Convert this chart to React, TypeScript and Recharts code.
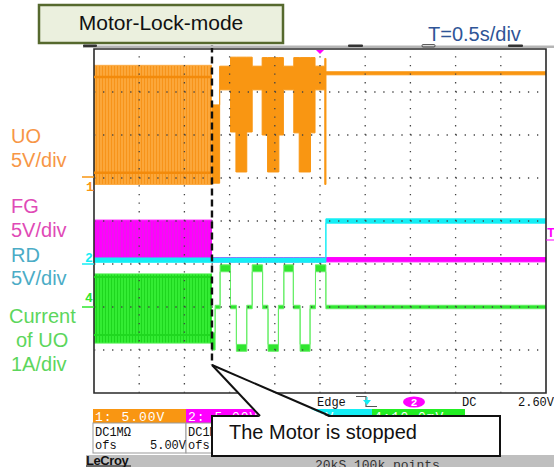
import React from "react"
import { Area, ComposedChart, Line, ReferenceArea, ReferenceLine, XAxis, YAxis } from "recharts"

// time in seconds (0.5 s/div, 10 div on screen), levels in screen divisions (0 = bottom, 8 = top)
const stopTime = 1.305
const endTime = 5

// UO, 5V/div
const uoDenseBand = [4.85, 7.62]
const uoDenseLevels = [5.12, 7.35]
const uoAfterTime = [1.305, 1.39, 1.51, 1.57, 1.69, 1.75, 1.86, 1.92, 2.045, 2.095, 2.21, 2.27, 2.395, 2.445, 2.553, 2.566, 5]
const uoAfterLow = [4.88, 7.05, 6.07, 5.14, 6.07, 7.05, 6.0, 5.14, 6.0, 7.05, 6.05, 5.14, 6.05, 7.05, 4.85, 7.4, 7.4]
const uoAfterHigh = [6.7, 7.6, 7.81, 7.81, 7.81, 7.6, 7.8, 7.8, 7.8, 7.6, 7.8, 7.8, 7.8, 7.6, 7.78, 7.47, 7.47]

// FG, 5V/div
const fgDenseBand = [3.09, 4.02]
const fgAfterTime = [1.305, 5]
const fgAfterLow = [3.05, 3.05]
const fgAfterHigh = [3.15, 3.15]

// RD, 5V/div
const rdTime = [0, 2.565, 5]
const rdLow = [3.04, 3.95, 3.95]
const rdHigh = [3.14, 4.05, 4.05]

// current of UO, 1A/div
const curDenseBand = [1.16, 2.77]
const curDenseLevels = [1.35, 2.7]
const curAfterTime = [1.305, 1.34, 1.395, 1.51, 1.575, 1.69, 1.75, 1.865, 1.925, 2.04, 2.1, 2.205, 2.28, 2.39, 2.45, 2.565, 5]
const curAfterLow = [1.0, 1.96, 2.82, 1.96, 0.97, 1.96, 2.82, 1.96, 0.97, 1.96, 2.82, 1.96, 0.97, 1.96, 2.82, 1.96, 1.96]
const curAfterHigh = [1.4, 2.04, 2.98, 2.04, 1.13, 2.04, 2.98, 2.04, 1.13, 2.04, 2.98, 2.04, 1.13, 2.04, 2.98, 2.04, 2.04]

const gridTimes = [0.5, 1, 1.5, 2, 2.5, 3, 3.5, 4, 4.5]
const gridLevels = [1, 2, 3, 4, 5, 6, 7]

function stepIndex(times: number[], t: number) {
  let idx = -1
  for (let i = 0; i < times.length; i++) {
    if (times[i] <= t + 1e-9) idx = i
  }
  return idx
}

function bandAt(times: number[], low: number[], high: number[], t: number) {
  const i = stepIndex(times, t)
  if (i < 0) return null
  return [low[i], high[i]]
}

const allTimes = Array.from(
  new Set([0, stopTime, endTime, ...uoAfterTime, ...fgAfterTime, ...rdTime, ...curAfterTime])
).sort((a, b) => a - b)

const rows = allTimes.map((t) => {
  const before = t <= stopTime + 1e-9
  const after = t >= stopTime - 1e-9
  return {
    t,
    uoDense: before ? uoDenseBand : null,
    uoLvlLo: before ? uoDenseLevels[0] : null,
    uoLvlHi: before ? uoDenseLevels[1] : null,
    uoAfter: after ? bandAt(uoAfterTime, uoAfterLow, uoAfterHigh, t) : null,
    fgDense: before ? fgDenseBand : null,
    fgAfter: after ? bandAt(fgAfterTime, fgAfterLow, fgAfterHigh, t) : null,
    rd: bandAt(rdTime, rdLow, rdHigh, t),
    curDense: before ? curDenseBand : null,
    curLvlLo: before ? curDenseLevels[0] : null,
    curLvlHi: before ? curDenseLevels[1] : null,
    curAfter: after ? bandAt(curAfterTime, curAfterLow, curAfterHigh, t) : null,
  }
})

const ORANGE = "#f99612"
const MAGENTA = "#ff00ff"
const CYAN = "#14eef5"
const GREEN = "#2ee62e"
const ARIAL = "Arial, 'Liberation Sans', sans-serif"
const MONO = "'Liberation Mono', 'DejaVu Sans Mono', monospace"

function ScopeChart() {
  return (
    <ComposedChart width={554} height={467} data={rows} margin={{ top: 49, right: 8, bottom: 74, left: 94 }}>
      <XAxis type="number" dataKey="t" domain={[0, endTime]} hide />
      <YAxis type="number" domain={[0, 8]} hide />

      <Area dataKey="uoDense" type="stepAfter" fill="url(#uoStripes)" fillOpacity={1} stroke="#fbab45" strokeWidth={1} dot={false} isAnimationActive={false} />
      <Line dataKey="uoLvlHi" type="stepAfter" stroke="#f38a0a" strokeWidth={2.5} dot={false} isAnimationActive={false} />
      <Line dataKey="uoLvlLo" type="stepAfter" stroke="#f38a0a" strokeWidth={2.5} dot={false} isAnimationActive={false} />
      <Area dataKey="uoAfter" type="stepAfter" fill={ORANGE} fillOpacity={1} stroke={ORANGE} strokeWidth={1} dot={false} isAnimationActive={false} />

      <Area dataKey="fgDense" type="stepAfter" fill="url(#fgStripes)" fillOpacity={1} stroke={MAGENTA} strokeWidth={1} dot={false} isAnimationActive={false} />
      <Area dataKey="fgAfter" type="stepAfter" fill={MAGENTA} fillOpacity={1} stroke={MAGENTA} strokeWidth={1} dot={false} isAnimationActive={false} />
      <Area dataKey="rd" type="stepAfter" fill={CYAN} fillOpacity={1} stroke={CYAN} strokeWidth={1} dot={false} isAnimationActive={false} />

      <Area dataKey="curDense" type="stepAfter" fill="url(#curStripes)" fillOpacity={1} stroke="#55f055" strokeWidth={1} dot={false} isAnimationActive={false} />
      <Line dataKey="curLvlHi" type="stepAfter" stroke="#1fd81f" strokeWidth={2} dot={false} isAnimationActive={false} />
      <Line dataKey="curLvlLo" type="stepAfter" stroke="#1fd81f" strokeWidth={2} dot={false} isAnimationActive={false} />
      <Area dataKey="curAfter" type="stepAfter" fill={GREEN} fillOpacity={1} stroke="#66ee66" strokeWidth={1} dot={false} isAnimationActive={false} />

      {gridLevels.map((v) => (
        <ReferenceLine key={`h${v}`} y={v} stroke="#444" strokeWidth={1.3} strokeDasharray="1.3 7.74" />
      ))}
      {gridTimes.map((v) => (
        <ReferenceLine key={`v${v}`} x={v} stroke="#444" strokeWidth={1.3} strokeDasharray="1.3 7.3" />
      ))}
      <ReferenceArea x1={0} x2={endTime} y1={0} y2={8} fill="none" stroke="#2a2a2a" strokeWidth={1.6} ifOverflow="visible" />
      <ReferenceLine
        segment={[
          { x: stopTime, y: 8.08 },
          { x: stopTime, y: 0.65 },
        ]}
        stroke="#111"
        strokeWidth={2.4}
        strokeDasharray="7 4"
        ifOverflow="visible"
      />
    </ComposedChart>
  )
}

function Overlay() {
  return (
    <svg width={554} height={467} style={{ position: "absolute", left: 0, top: 0, pointerEvents: "none" }}>
      {/* title */}
      <rect x={39} y={5} width={244} height={38} fill="#ebf0de" stroke="#56692e" strokeWidth={2.5} />
      <text x={161} y={30} textAnchor="middle" fontFamily={ARIAL} fontSize={21} fill="#111">
        Motor-Lock-mode
      </text>
      <text x={428} y={41} fontFamily={ARIAL} fontSize={20} fill="#2f5597">
        T=0.5s/div
      </text>

      {/* scope top bar */}
      <rect x={83} y={45.5} width={471} height={2.5} fill="#b5b5b5" />
      <rect x={83} y={44.5} width={14} height={2.5} rx={1} fill="#333" />
      <rect x={348} y={44.5} width={15} height={2.5} rx={1} fill="#333" />
      <rect x={422} y={44.5} width={13} height={2.5} rx={1} fill="none" stroke="#333" strokeWidth={0.8} />
      <rect x={508} y={44.5} width={15} height={2.5} rx={1} fill="#333" />
      <polygon points="316,50 324,50 320,54" fill={MAGENTA} />

      {/* channel labels */}
      <g fontFamily={ARIAL} fontSize={20}>
        <text x={11} y={143} fill="#f79646">UO</text>
        <text x={11} y={167} fill="#f79646">5V/div</text>
        <text x={11} y={213} fill="#e04ab6">FG</text>
        <text x={11} y={237} fill="#e04ab6">5V/div</text>
        <text x={11} y={262} fill="#4bacc6">RD</text>
        <text x={11} y={285} fill="#4bacc6">5V/div</text>
        <text x={9} y={323} fill="#5cd65c">Current</text>
        <text x={16} y={347} fill="#5cd65c">of UO</text>
        <text x={11} y={371} fill="#5cd65c">1A/div</text>
      </g>

      {/* channel ground markers */}
      <line x1={82} x2={94} y1={177} y2={177} stroke={ORANGE} strokeWidth={1.5} />
      <text x={86} y={191} fontFamily={MONO} fontWeight="bold" fontSize={13} fill={ORANGE}>1</text>
      <text x={85} y={262} fontFamily={MONO} fontWeight="bold" fontSize={13} fill={CYAN}>2</text>
      <line x1={82} x2={94} y1={264} y2={264} stroke={CYAN} strokeWidth={1.5} />
      <line x1={82} x2={94} y1={307} y2={307} stroke={GREEN} strokeWidth={1.5} />
      <text x={85} y={302} fontFamily={MONO} fontWeight="bold" fontSize={13} fill={GREEN}>4</text>
      <text x={547} y={237} fontFamily={MONO} fontWeight="bold" fontSize={13} fill={MAGENTA}>T</text>
      <line x1={546} x2={554} y1={240} y2={240} stroke={MAGENTA} strokeWidth={1} />

      {/* trigger line */}
      <g fontFamily={MONO} fontSize={12} fill="#111">
        <text x={317} y={406}>Edge</text>
        <text x={462} y={406}>DC</text>
        <text x={518} y={406}>2.60V</text>
      </g>
      <path d="M356 396.5 H366 V406.5 H377" fill="none" stroke="#555" strokeWidth={1.2} />
      <polygon points="363,400 371,400 367,405" fill={CYAN} />
      <line x1={367} x2={367} y1={397} y2={401} stroke={CYAN} strokeWidth={1.2} />
      <ellipse cx={414} cy={402} rx={11} ry={5.5} fill={MAGENTA} />
      <text x={414} y={406} textAnchor="middle" fontFamily={MONO} fontWeight="bold" fontSize={11} fill="#fff">2</text>

      {/* channel boxes */}
      <g fontFamily={MONO} fontSize={13} fill="#fff" letterSpacing={1}>
        <rect x={93} y={409} width={93} height={14} fill={ORANGE} />
        <text x={95} y={421}>1: 5.00V</text>
        <rect x={186} y={409} width={76} height={14} fill={MAGENTA} />
        <text x={188} y={421}>2: 5.00V</text>
        <rect x={262} y={409} width={110} height={14} fill={CYAN} />
        <text x={264} y={421}>3: 5.00V</text>
        <rect x={372} y={409} width={93} height={14} fill="#22ee22" />
        <text x={374} y={421}>4:10.0mV</text>
      </g>
      <rect x={93} y={423} width={93} height={30} fill="#fff" stroke="#999" strokeWidth={1} />
      <rect x={186} y={423} width={76} height={30} fill="#fff" stroke="#999" strokeWidth={1} />
      <g fontFamily={MONO} fontSize={12} fill="#111">
        <text x={95} y={436}>DC1MΩ</text>
        <text x={95} y={449}>ofs</text>
        <text x={186} y={449} textAnchor="end">5.00V</text>
        <text x={188} y={436}>DC1MΩ</text>
        <text x={188} y={449}>ofs</text>
      </g>

      {/* bottom status bar */}
      <rect x={86} y={455} width={468} height={12} fill="#bfbfbf" />
      <text x={86} y={465} fontFamily={ARIAL} fontWeight="bold" fontSize={13} fill="#111" letterSpacing={-0.4}>
        LeCroy
      </text>
      <line x1={86} x2={131} y1={466} y2={466} stroke="#111" strokeWidth={1} />
      <text x={315} y={469} fontFamily={MONO} fontSize={13} fill="#333">
        20kS  100k points
      </text>

      {/* callout */}
      <rect x={212} y={416} width={288} height={40} fill="#fff" stroke="#111" strokeWidth={2} />
      <polygon points="212,365 260,417.5 330,417.5" fill="#fff" />
      <line x1={212} y1={365} x2={260} y2={416} stroke="#111" strokeWidth={2} />
      <line x1={212} y1={365} x2={330} y2={416} stroke="#111" strokeWidth={2} />
      <text x={229} y={439} fontFamily={ARIAL} fontSize={20} fill="#111">
        The Motor is stopped
      </text>
    </svg>
  )
}

export default function App() {
  return (
    <div style={{ position: "absolute", left: 0, top: 0, width: 554, height: 467, background: "#fff", overflow: "hidden" }}>
      <svg width={0} height={0} style={{ position: "absolute" }}>
        <defs>
          <pattern id="uoStripes" width={3} height={10} patternUnits="userSpaceOnUse">
            <rect width={3} height={10} fill="#fba73a" />
            <rect width={1} height={10} fill="#f7941a" />
          </pattern>
          <pattern id="fgStripes" width={3} height={10} patternUnits="userSpaceOnUse">
            <rect width={3} height={10} fill="#ff00ff" />
            <rect width={1} height={10} fill="#e81ce8" />
          </pattern>
          <pattern id="curStripes" width={3} height={10} patternUnits="userSpaceOnUse">
            <rect width={3} height={10} fill="#33ec33" />
            <rect width={1} height={10} fill="#1ed61e" />
          </pattern>
        </defs>
      </svg>
      <div style={{ position: "absolute", left: 0, top: 0 }}>
        <ScopeChart />
      </div>
      <Overlay />
    </div>
  )
}
